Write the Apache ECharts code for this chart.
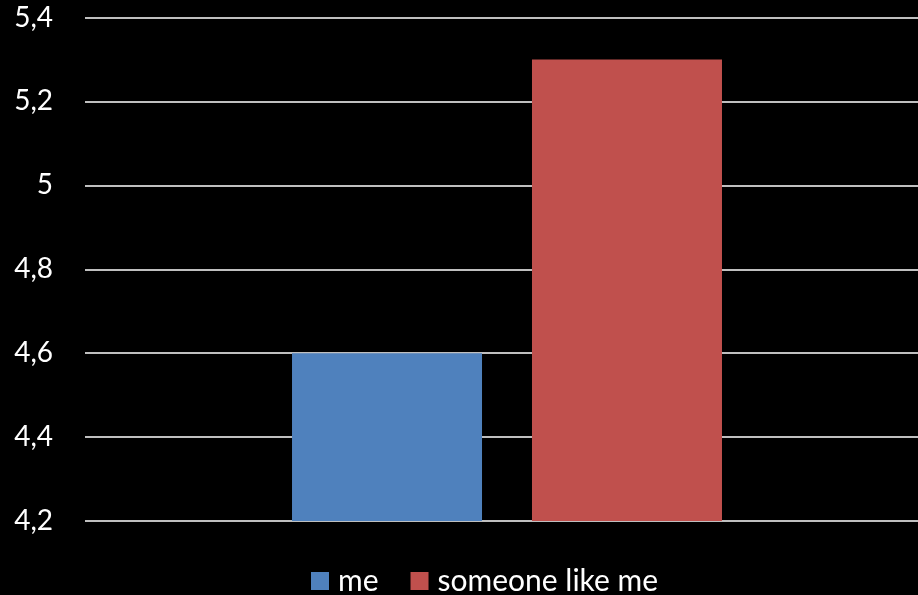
<!DOCTYPE html>
<html>
<head>
<meta charset="utf-8">
<script src="https://cdn.jsdelivr.net/npm/echarts@6/dist/echarts.min.js"></script>
<style>
  html, body { margin: 0; padding: 0; background: #000; }
  #chart { width: 918px; height: 595px; }
</style>
</head>
<body>
<div id="chart"></div>
<script>
// Chart data
const categories = [''];
const seriesNames = ['me', 'someone like me'];
const meValues = [4.6];
const someoneLikeMeValues = [5.3];
const yTicks = { min: 4.2, max: 5.4, step: 0.2 };

const FONT = 'Lato';

const chart = echarts.init(document.getElementById('chart'), null, { renderer: 'canvas' });

chart.setOption({
  backgroundColor: '#000000',
  animation: false,
  textStyle: { fontFamily: FONT },
  // plot area runs a little past the right edge of the canvas
  grid: { left: 85, width: 844, top: 17.5, height: 503.5, containLabel: false, outerBoundsMode: 'none' },
  legend: {
    data: seriesNames,
    bottom: -1,
    left: 311,
    padding: 0,
    itemWidth: 18,
    itemHeight: 18,
    itemGap: 32,
    icon: 'rect',
    textStyle: { color: '#ffffff', fontSize: 30, fontFamily: FONT, fontWeight: 'normal', padding: [0, 0, 0, 4] }
  },
  xAxis: {
    type: 'category',
    data: categories,
    axisLine: { show: false },
    axisTick: { show: false },
    axisLabel: { show: false }
  },
  yAxis: {
    type: 'value',
    min: yTicks.min,
    max: yTicks.max,
    interval: yTicks.step,
    axisLine: { show: false },
    axisTick: { show: false },
    axisLabel: {
      color: '#ffffff',
      fontSize: 28,
      fontFamily: FONT,
      margin: 32,
      formatter: v => String(Math.round(v * 10) / 10).replace('.', ',')
    },
    splitLine: { lineStyle: { color: '#ffffff', width: 1.5 } }
  },
  series: [
    {
      name: seriesNames[0],
      type: 'bar',
      data: meValues,
      barWidth: 190,
      barGap: '26.3%',
      itemStyle: { color: '#4F81BD' }
    },
    {
      name: seriesNames[1],
      type: 'bar',
      data: someoneLikeMeValues,
      barWidth: 190,
      itemStyle: { color: '#C0504D' }
    }
  ]
});
</script>
</body>
</html>
